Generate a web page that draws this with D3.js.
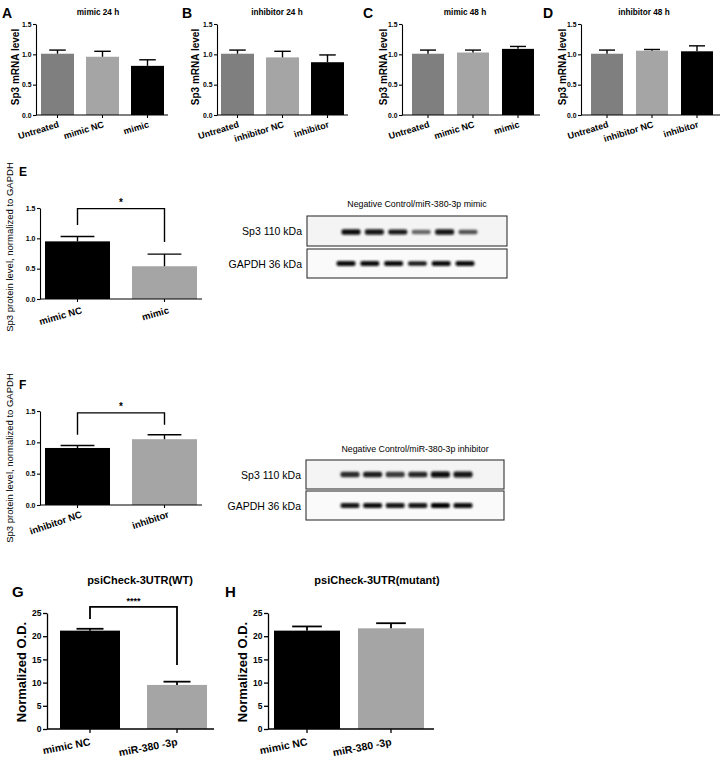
<!DOCTYPE html>
<html><head><meta charset="utf-8">
<script src="https://cdn.jsdelivr.net/npm/d3@7"></script>
<style>body{margin:0;background:#fff}svg{display:block}text{font-family:"Liberation Sans",Arial,Helvetica,sans-serif}</style>
</head><body>
<svg id="c" width="720" height="762"></svg>
<script>
// ---------------- DATA ----------------
const catsMimic = ["Untreated", "mimic NC", "mimic"];
const catsInhib = ["Untreated", "inhibitor NC", "inhibitor"];
const titleA = "mimic 24 h", titleB = "inhibitor 24 h", titleC = "mimic 48 h", titleD = "inhibitor 48 h";
const valsA = [1.01, 0.96, 0.81], errA = [0.06, 0.09, 0.10];
const valsB = [1.01, 0.95, 0.87], errB = [0.06, 0.10, 0.12];
const valsC = [1.01, 1.03, 1.09], errC = [0.06, 0.04, 0.04];
const valsD = [1.01, 1.06, 1.05], errD = [0.06, 0.02, 0.09];
const ticksRel = [0, 0.5, 1.0, 1.5];

const catsE = ["mimic NC", "mimic"];
const valsE = [0.95, 0.54], errE = [0.08, 0.20];
const sigE = {label: "*", top: 1.49, left: 1.22, right: 0.94};
const catsF = ["inhibitor NC", "inhibitor"];
const valsF = [0.91, 1.05], errF = [0.04, 0.07];
const sigF = {label: "*", top: 1.47, left: 1.12, right: 1.28};

const blotTitleE = "Negative Control/miR-380-3p mimic";
const blotTitleF = "Negative Control/miR-380-3p inhibitor";
const blotRows = ["Sp3 110 kDa", "GAPDH 36 kDa"];
const sp3E = [0.92, 0.9, 0.88, 0.5, 0.9, 0.62];
const gapdhE = [0.95, 0.92, 0.92, 0.85, 0.92, 0.92];
const sp3F = [0.78, 0.85, 0.72, 0.8, 0.95, 0.9];
const gapdhF = [0.9, 0.95, 0.9, 0.9, 0.97, 0.95];

const catsG = ["mimic NC", "miR-380 -3p"];
const titleG = "psiCheck-3UTR(WT)", titleH = "psiCheck-3UTR(mutant)";
const valsG = [21.2, 9.5], errG = [0.4, 0.7];
const sigG = {label: "****", top: 26.3, left: 23.7, right: 13.8};
const valsH = [21.2, 21.7], errH = [0.9, 1.1];
const ticksOD = [0, 5, 10, 15, 20, 25];

// ---------------- DRAWING ----------------
const svg = d3.select("#c");
const defs = svg.append("defs");
defs.append("filter").attr("id", "blur").attr("x", "-50%").attr("y", "-100%").attr("width", "200%").attr("height", "300%")
  .append("feGaussianBlur").attr("stdDeviation", 1.0);

const DARK = "#7f7f7f", LIGHT = "#a5a5a5", BLACK = "#000";

function barPanel(o) {
  const g = svg.append("g");
  const y = d3.scaleLinear().domain([0, o.yMax]).range([o.y0, o.yT]);
  const n = o.cats.length;
  const x = d3.scaleBand().domain(o.cats)
    .range([o.x0, o.x0 + (n - 1) * o.step + o.bw])
    .paddingInner((o.step - o.bw) / o.step).paddingOuter(0);
  const data = o.cats.map((c, i) => ({c, v: o.vals[i], e: o.errs[i], col: o.colors[i]}));
  g.selectAll("rect.bar").data(data).join("rect").attr("class", "bar")
    .attr("x", d => x(d.c)).attr("width", x.bandwidth())
    .attr("y", d => y(d.v)).attr("height", d => y(0) - y(d.v))
    .attr("fill", d => d.col);
  const capW = x.bandwidth() * o.cap;
  g.selectAll("line.err").data(data).join("line").attr("class", "err")
    .attr("x1", d => x(d.c) + x.bandwidth() / 2).attr("x2", d => x(d.c) + x.bandwidth() / 2)
    .attr("y1", d => y(d.v)).attr("y2", d => y(d.v + d.e))
    .attr("stroke", "#000").attr("stroke-width", o.sw);
  g.selectAll("line.cap").data(data).join("line").attr("class", "cap")
    .attr("x1", d => x(d.c) + x.bandwidth() / 2 - capW / 2).attr("x2", d => x(d.c) + x.bandwidth() / 2 + capW / 2)
    .attr("y1", d => y(d.v + d.e)).attr("y2", d => y(d.v + d.e))
    .attr("stroke", "#000").attr("stroke-width", o.sw);
  const ya = g.append("g").attr("transform", `translate(${o.axisX},0)`)
    .call(d3.axisLeft(y).tickValues(o.ticks).tickSize(o.tick).tickSizeOuter(0).tickPadding(1.5).tickFormat(o.fmt));
  ya.select(".domain").attr("stroke", "#000").attr("stroke-width", o.aw);
  ya.selectAll(".tick line").attr("stroke", "#000").attr("stroke-width", o.aw);
  ya.selectAll(".tick text").attr("font-size", o.tickFont).attr("font-weight", o.tickWeight || "bold").attr("fill", "#000")
    .style("font-family", '"Liberation Sans",Arial,sans-serif');
  g.append("line").attr("x1", o.axisX).attr("x2", o.axisEnd).attr("y1", y(0)).attr("y2", y(0))
    .attr("stroke", "#000").attr("stroke-width", o.aw);
  g.selectAll("line.xt").data(data).join("line").attr("class", "xt")
    .attr("x1", d => x(d.c) + x.bandwidth() / 2).attr("x2", d => x(d.c) + x.bandwidth() / 2)
    .attr("y1", y(0)).attr("y2", y(0) + o.tick).attr("stroke", "#000").attr("stroke-width", o.aw);
  g.selectAll("text.xl").data(data).join("text").attr("class", "xl")
    .attr("transform", d => `translate(${x(d.c) + x.bandwidth() / 2 + o.lblDx},${y(0) + o.lblDy}) rotate(${o.rot})`)
    .attr("text-anchor", "end").attr("font-size", o.lblFont).attr("font-weight", o.lblWeight || "bold").text(d => d.c);
  g.append("text").attr("transform", `translate(${o.ylX},${o.ylY}) rotate(-90)`)
    .attr("text-anchor", "middle").attr("font-size", o.ylFont).attr("font-weight", o.ylWeight || "bold").text(o.ylabel);
  if (o.title) g.append("text").attr("x", o.tX).attr("y", o.tY).attr("text-anchor", "middle")
    .attr("font-size", o.tFont).attr("font-weight", "bold").text(o.title);
  g.append("text").attr("x", o.letX).attr("y", o.letY).attr("font-size", o.letFont).attr("font-weight", "bold").text(o.letter);
  if (o.sig) {
    const cx0 = x(o.cats[0]) + x.bandwidth() / 2, cx1 = x(o.cats[1]) + x.bandwidth() / 2;
    g.append("path").attr("fill", "none").attr("stroke", "#000").attr("stroke-width", o.sw)
      .attr("d", `M${cx0},${y(o.sig.left)}V${y(o.sig.top)}H${cx1}V${y(o.sig.right)}`);
    g.append("text").attr("x", (cx0 + cx1) / 2).attr("y", y(o.sig.top) - 3).attr("text-anchor", "middle")
      .attr("font-size", o.sigFont).attr("font-weight", "bold").text(o.sig.label);
  }
}

// Top row (A-D)
const topCommon = {yMax: 1.5, y0: 115, yT: 24, ticks: ticksRel, fmt: d3.format(".1f"), step: 45, bw: 33,
  colors: [DARK, LIGHT, BLACK], cap: 0.5, sw: 1.4, aw: 1.1, tick: 3, tickFont: 6.8,
  rot: -17, lblDx: 2, lblDy: 12, lblFont: 9, ylabel: "Sp3 mRNA level", ylY: 67, ylFont: 10, tY: 15, tFont: 8.2,
  letY: 18, letFont: 14};
barPanel(Object.assign({}, topCommon, {cats: catsMimic, vals: valsA, errs: errA, axisX: 36, x0: 41, axisEnd: 168,
  ylX: 19, title: titleA, tX: 98, letter: "A", letX: 2}));
barPanel(Object.assign({}, topCommon, {cats: catsInhib, vals: valsB, errs: errB, axisX: 217, x0: 221, axisEnd: 348,
  ylX: 199, title: titleB, tX: 277, letter: "B", letX: 182}));
barPanel(Object.assign({}, topCommon, {cats: catsMimic, vals: valsC, errs: errC, axisX: 402, x0: 412, axisEnd: 540, bw: 32,
  ylX: 387, title: titleC, tX: 465, letter: "C", letX: 363}));
barPanel(Object.assign({}, topCommon, {cats: catsInhib, vals: valsD, errs: errD, axisX: 581, x0: 591, axisEnd: 720, bw: 32,
  ylX: 566, title: titleD, tX: 644, letter: "D", letX: 543}));

// E and F
const midCommon = {yMax: 1.5, ticks: ticksRel, fmt: d3.format(".1f"), step: 87, bw: 65, x0: 45, axisX: 40, axisEnd: 202,
  colors: [BLACK, LIGHT], cap: 0.52, sw: 1.4, aw: 1.1, tick: 3, tickFont: 7, rot: -16, lblDx: 5, lblFont: 9.5,
  ylabel: "Sp3 protein level, normalized to GAPDH", ylX: 13, ylFont: 9.5, ylWeight: "normal", letFont: 12, letX: 19, sigFont: 10};
barPanel(Object.assign({}, midCommon, {cats: catsE, vals: valsE, errs: errE, y0: 299, yT: 208, lblDy: 14,
  ylY: 247, letter: "E", letY: 176, sig: sigE}));
barPanel(Object.assign({}, midCommon, {cats: catsF, vals: valsF, errs: errF, y0: 505, yT: 411, lblDy: 12, rot: -19,
  ylY: 458, letter: "F", letY: 389, sig: sigF}));

// G and H
const botCommon = {yMax: 25, ticks: ticksOD, fmt: d3.format("d"), colors: [BLACK, LIGHT], cap: 0.45, sw: 1.8, aw: 1.3,
  tick: 4, tickFont: 8.5, rot: -11, lblDx: 1, lblDy: 16, lblFont: 10.5, ylabel: "Normalized O.D.", ylFont: 13,
  y0: 729, yT: 613, tY: 584, tFont: 11, letY: 597, letFont: 15, sigFont: 9};
barPanel(Object.assign({}, botCommon, {cats: catsG, vals: valsG, errs: errG, axisX: 47, x0: 60, bw: 60, step: 87, axisEnd: 214,
  ylX: 26, ylY: 672, title: titleG, tX: 140, letter: "G", letX: 12, sig: sigG}));
barPanel(Object.assign({}, botCommon, {cats: catsG, vals: valsH, errs: errH, axisX: 268, x0: 274, bw: 66, step: 84, axisEnd: 434,
  ylX: 247, ylY: 672, title: titleH, tX: 377, letter: "H", letX: 225}));

// Western blots
function blot(o) {
  const g = svg.append("g");
  g.append("text").attr("x", (o.bx0 + o.bx1) / 2 + 10).attr("y", o.tY).attr("text-anchor", "middle")
    .attr("font-size", 8.8).text(o.title);
  const rows = [{name: blotRows[0], y0: o.r1[0], y1: o.r1[1], bands: o.sp3, xs: o.lanes1, h: o.h1},
                {name: blotRows[1], y0: o.r2[0], y1: o.r2[1], bands: o.gapdh, xs: o.lanes2, h: o.h2}];
  rows.forEach((r, ri) => {
    g.append("rect").attr("x", o.bx0).attr("y", r.y0).attr("width", o.bx1 - o.bx0).attr("height", r.y1 - r.y0)
      .attr("fill", ri === 0 ? "#f4f4f4" : "#fafafa").attr("stroke", "#333").attr("stroke-width", 1.1);
    const lx = d3.scalePoint().domain(d3.range(r.bands.length)).range(r.xs);
    const cy = (r.y0 + r.y1) / 2 + (ri === 0 ? o.d1 : o.d2);
    g.selectAll(null).data(r.bands).join("rect")
      .attr("x", (d, i) => lx(i) - 9.5).attr("width", 19)
      .attr("y", d => cy - r.h * (0.6 + 0.4 * d) / 2).attr("height", d => r.h * (0.6 + 0.4 * d))
      .attr("rx", 2).attr("fill", d => d3.interpolateGreys(0.35 + 0.65 * d))
      .attr("filter", "url(#blur)");
    g.append("text").attr("x", o.bx0 - 5).attr("y", (r.y0 + r.y1) / 2 + 4).attr("text-anchor", "end")
      .attr("font-size", 10.5).text(r.name);
  });
}
blot({title: blotTitleE, tY: 207, bx0: 307, bx1: 507, r1: [216, 246], r2: [249, 278], sp3: sp3E, gapdh: gapdhE,
  lanes1: [351, 468], lanes2: [346, 465], h1: 5.5, h2: 5, d1: 1, d2: 0});
blot({title: blotTitleF, tY: 452, bx0: 306, bx1: 504, r1: [460, 489], r2: [491, 520], sp3: sp3F, gapdh: gapdhF,
  lanes1: [350, 463], lanes2: [350, 463], h1: 6, h2: 5, d1: 0, d2: 0});
</script>
</body></html>
